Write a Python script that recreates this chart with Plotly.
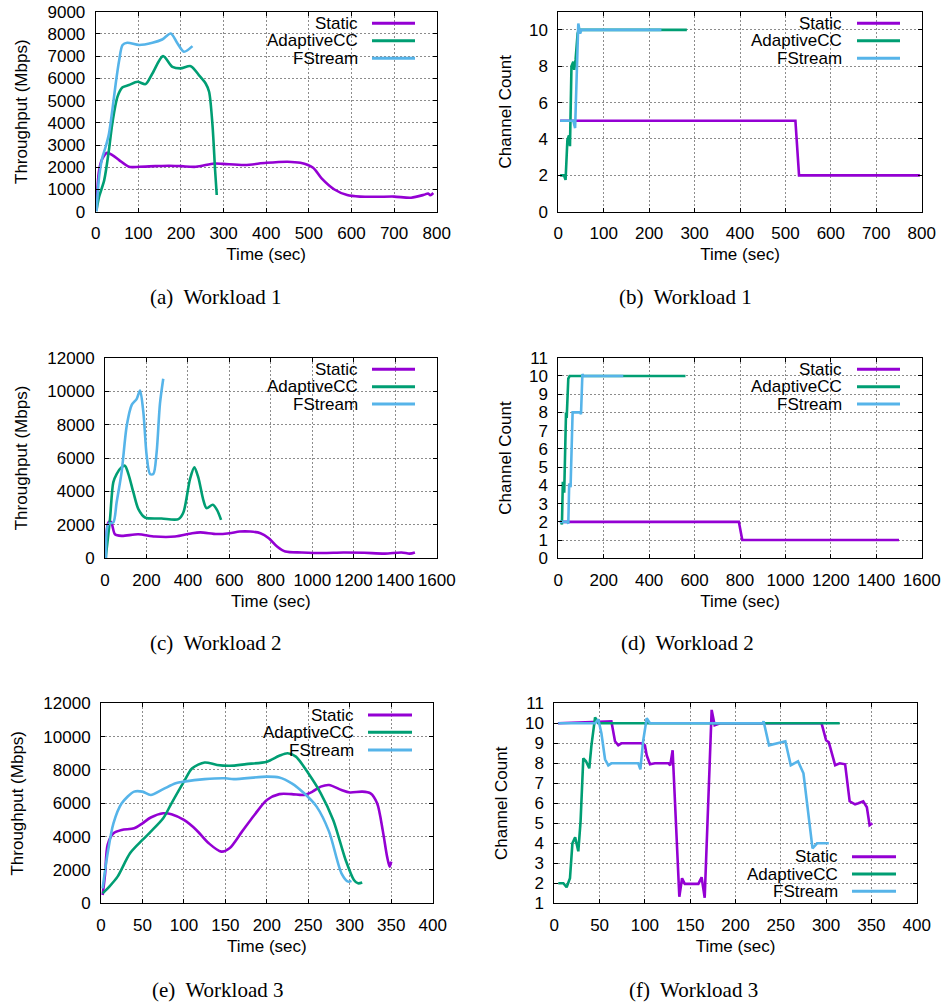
import plotly.graph_objects as go

W, H = 945, 1005
PURPLE = "#9400d3"
GREEN = "#009e73"
BLUE = "#56b4e9"
SANS = "Liberation Sans"
SERIF = "Liberation Serif"

SERIES_NAMES = ["Static", "AdaptiveCC", "FStream"]
SERIES_COLORS = [PURPLE, GREEN, BLUE]

# ---- Workload 1: throughput (Mbps) over time (sec) ----
w1_static_t = [2, 8, 16, 27, 39, 55, 78, 102, 140, 172, 200, 235, 278, 300, 350, 400, 450, 480, 510, 530,
               560, 590, 620, 660, 700, 740, 770, 780, 785, 792]
w1_static_v = [200, 1870, 2400, 2650, 2550, 2320, 2020, 2020, 2050, 2070, 2050, 2020, 2170, 2150, 2100, 2200,
               2250, 2200, 1980, 1500, 1000, 750, 680, 670, 680, 630, 760, 820, 740, 840]
w1_adapt_t = [2, 8, 20, 31, 39, 51, 63, 78, 98, 117, 133, 158, 180, 199, 223, 242, 258, 266, 274, 280, 284]
w1_adapt_v = [75, 670, 1420, 2770, 3970, 5170, 5600, 5700, 5850, 5740, 6220, 7000, 6520, 6450, 6550, 6150,
              5770, 5400, 3900, 1900, 750]
w1_fs_t = [2, 8, 16, 23, 31, 39, 47, 55, 63, 74, 102, 133, 156, 176, 192, 207, 227]
w1_fs_v = [0, 1570, 2470, 2900, 3500, 4570, 5770, 6800, 7500, 7600, 7500, 7600, 7750, 8020, 7570, 7200, 7450]

# ---- Workload 1: channel count ----
w1c_static_t = [4, 522, 530, 796]
w1c_static_v = [5, 5, 2, 2]
w1c_adapt_t = [4, 12.5, 16, 20, 23.5, 25.7, 29, 33, 35, 38, 42.5, 45, 283]
w1c_adapt_v = [2, 2, 1.75, 3.95, 4.2, 3.6, 8.0, 8.25, 7.8, 8.35, 9.8, 10, 10]
w1c_fs_t = [4, 33, 37, 40, 44, 48, 51, 227]
w1c_fs_v = [5, 5, 4.6, 7.2, 10.35, 9.8, 10, 10]

# ---- Workload 2: throughput ----
w2_static_t = [3, 16, 29, 48, 80, 160, 241, 338, 420, 460, 540, 600, 650, 700, 750, 790, 830, 870, 950,
               1050, 1150, 1250, 1350, 1430, 1470, 1495]
w2_static_v = [0, 2140, 2180, 1440, 1340, 1440, 1300, 1300, 1500, 1550, 1450, 1500, 1600, 1600, 1500, 1200,
               700, 400, 350, 320, 350, 330, 280, 350, 280, 350]
w2_adapt_t = [3, 24, 40, 56, 80, 96, 113, 137, 161, 193, 273, 354, 378, 410, 431, 450, 474, 490, 520, 540, 560]
w2_adapt_v = [0, 2340, 4540, 5040, 5440, 5540, 5040, 3940, 2940, 2440, 2380, 2340, 2740, 4740, 5440, 4840,
              3500, 3000, 3200, 2900, 2300]
w2_fs_t = [5, 16, 40, 56, 80, 105, 129, 153, 169, 185, 201, 217, 233, 249, 265, 281]
w2_fs_v = [0, 2040, 2140, 3340, 5140, 7940, 9180, 9540, 10040, 8740, 6140, 5040, 5040, 6340, 9240, 10740]

# ---- Workload 2: channel count ----
w2c_static_t = [7, 795, 810, 1500]
w2c_static_v = [2, 2, 1, 1]
w2c_adapt_t = [7, 13, 16, 20, 26, 31, 34, 37, 44, 50, 560]
w2c_adapt_v = [2, 2, 1.85, 4.2, 3.6, 7.9, 8.0, 7.7, 9.85, 10, 10]
w2c_fs_t = [7, 40, 44, 48, 54, 63, 96, 100, 106, 110, 286]
w2c_fs_v = [2, 2, 1.9, 4.1, 3.9, 8, 8, 7.9, 10.1, 10, 10]

# ---- Workload 3: throughput ----
w3_static_t = [2, 5, 8, 15, 25, 40, 50, 60, 75, 85, 100, 115, 130, 145, 155, 170, 185, 200, 215, 230, 245,
               255, 265, 275, 290, 300, 315, 325, 333, 340, 345, 348, 350]
w3_static_v = [500, 1800, 3500, 4200, 4400, 4500, 4800, 5150, 5400, 5350, 5000, 4400, 3600, 3100, 3300, 4300,
               5300, 6200, 6550, 6550, 6500, 6700, 7000, 7100, 6800, 6650, 6700, 6600, 6000, 4300, 2800, 2200,
               2500]
w3_adapt_t = [2, 10, 20, 35, 50, 60, 75, 85, 100, 110, 125, 140, 155, 175, 200, 215, 225, 235, 250, 265, 280,
              295, 305, 310, 315]
w3_adapt_v = [600, 1000, 1600, 3000, 3800, 4300, 5100, 6000, 7300, 8100, 8450, 8300, 8250, 8350, 8500, 8850,
              9000, 8800, 7800, 6600, 5000, 2600, 1400, 1200, 1250]
w3_fs_t = [2, 8, 15, 25, 40, 50, 60, 75, 90, 100, 125, 150, 160, 200, 215, 230, 245, 260, 275, 290, 298, 302]
w3_fs_v = [900, 3000, 4800, 6000, 6700, 6700, 6500, 6850, 7200, 7300, 7450, 7500, 7450, 7600, 7550, 7200, 6600,
           5800, 4300, 1800, 1300, 1350]

# ---- Workload 3: channel count ----
w3c_static_t = [4, 63, 67, 70.6, 74, 96, 100, 102, 105.6, 111, 126, 128, 130.6, 138, 141, 144, 159, 162.6, 166,
                173.7, 177, 183, 295, 300, 303, 310, 315, 321, 326, 332, 335.6, 341, 345, 348, 351]
w3c_static_v = [10, 10.1, 9.1, 8.9, 9.0, 9.0, 8.9, 8.4, 7.95, 8.0, 8.0, 7.9, 8.65, 1.33, 2.25, 1.97, 1.97, 2.3,
                1.28, 10.67, 9.9, 10, 10, 9.15, 9.05, 7.9, 8.0, 7.95, 6.1, 5.95, 6.0, 6.1, 5.8, 4.9, 5.0]
w3c_adapt_t = [4.4, 10, 13.6, 17.3, 20, 23, 26.5, 29, 32, 35, 38.6, 41, 45, 48.6, 315]
w3c_adapt_v = [2, 2, 1.8, 2.25, 4.0, 4.3, 3.6, 5.1, 8.25, 8.1, 7.75, 8.9, 10.3, 10, 10]
w3c_fs_t = [4.4, 45, 48.6, 52, 56, 59.6, 63, 92.7, 95, 98, 102, 105.6, 230, 231, 237, 249, 255, 261, 269, 275,
            279, 285, 290, 303]
w3c_fs_v = [10, 10, 10.2, 9.5, 8.2, 7.9, 8.0, 8.0, 7.7, 9.1, 10.25, 10, 10, 10.1, 8.9, 9.05, 9.1, 7.9, 8.1, 7.5,
            6.0, 3.75, 4.0, 4.0]

# panel layout: plot box in pixels (left, top, right, bottom)
panels = [
    dict(box=(95.7, 11.7, 436.7, 211.7), xr=[0, 800], xd=100, yr=[0, 9000], yvals=list(range(0, 9001, 1000)),
         ytitle="Throughput (Mbps)", ystand=15, smooth=True, caption="(a)\u00a0 Workload 1", cap=(215, 297),
         data=[(w1_static_t, w1_static_v), (w1_adapt_t, w1_adapt_v), (w1_fs_t, w1_fs_v)],
         key=dict(right=360, l0=372, l1=415, rows=[23.3, 40.7, 58.3], box=(265, 11.7, 420, 67))),
    dict(box=(558.3, 11.7, 921.7, 211.7), xr=[0, 800], xd=100, yr=[0, 11], yvals=[0, 2, 4, 6, 8, 10],
         ytitle="Channel Count", ystand=13, smooth=False, caption="(b)\u00a0 Workload 1", cap=(685, 297),
         data=[(w1c_static_t, w1c_static_v), (w1c_adapt_t, w1c_adapt_v), (w1c_fs_t, w1c_fs_v)],
         key=dict(right=844, l0=857, l1=900, rows=[23.3, 40.7, 58.3], box=(748, 11.7, 905, 67))),
    dict(box=(105, 357.7, 436.7, 558.3), xr=[0, 1600], xd=200, yr=[0, 12000], yvals=list(range(0, 12001, 2000)),
         ytitle="Throughput (Mbps)", ystand=15, smooth=True, caption="(c)\u00a0 Workload 2", cap=(215, 643),
         data=[(w2_static_t, w2_static_v), (w2_adapt_t, w2_adapt_v), (w2_fs_t, w2_fs_v)],
         key=dict(right=360, l0=372, l1=415, rows=[369.3, 386.7, 404], box=(265, 357.7, 420, 413))),
    dict(box=(558.3, 357.7, 921.7, 558.3), xr=[0, 1600], xd=200, yr=[0, 11], yvals=list(range(0, 12)),
         ytitle="Channel Count", ystand=13, smooth=False, caption="(d)\u00a0 Workload 2", cap=(687, 643),
         data=[(w2c_static_t, w2c_static_v), (w2c_adapt_t, w2c_adapt_v), (w2c_fs_t, w2c_fs_v)],
         key=dict(right=844, l0=857, l1=900, rows=[369.3, 386.7, 404], box=(748, 357.7, 905, 413))),
    dict(box=(101, 703.3, 432.7, 903.3), xr=[0, 400], xd=50, yr=[0, 12000], yvals=list(range(0, 12001, 2000)),
         ytitle="Throughput (Mbps)", ystand=15, smooth=True, caption="(e)\u00a0 Workload 3", cap=(217, 990),
         data=[(w3_static_t, w3_static_v), (w3_adapt_t, w3_adapt_v), (w3_fs_t, w3_fs_v)],
         key=dict(right=356, l0=368, l1=412, rows=[715, 732.3, 750], box=(260, 703.3, 417, 758))),
    dict(box=(554.3, 703.3, 916.7, 903.3), xr=[0, 400], xd=50, yr=[1, 11], yvals=list(range(1, 12)),
         ytitle="Channel Count", ystand=13, smooth=False, caption="(f)\u00a0 Workload 3", cap=(693, 990),
         data=[(w3c_static_t, w3c_static_v), (w3c_adapt_t, w3c_adapt_v), (w3c_fs_t, w3c_fs_v)],
         key=dict(right=840, l0=852, l1=896, rows=[856.7, 874, 891.3], box=(744, 845, 901, 903.3))),
]


def px(x):
    return x / W


def py(y):
    return 1 - y / H


fig = go.Figure()
annotations = []
shapes = []
tick_font = dict(family=SANS, size=17, color="black")

for i, p in enumerate(panels):
    n = "" if i == 0 else str(i + 1)
    xa, ya = "x" + n, "y" + n
    left, top, right, bottom = p["box"]
    common = dict(showline=True, linecolor="black", linewidth=1, mirror="allticks", ticks="inside",
                  ticklen=4, tickcolor="black", showgrid=True, gridcolor="#8c8c8c", griddash="2px,2px",
                  gridwidth=1, zeroline=False, tickfont=tick_font, automargin=False, tickformat="d")
    fig.layout["xaxis" + n] = dict(common, domain=[px(left), px(right)], range=p["xr"], dtick=p["xd"],
                                   tick0=0, anchor=ya, ticklabelstandoff=6,
                                   title=dict(text="Time (sec)", font=tick_font, standoff=6))
    fig.layout["yaxis" + n] = dict(common, domain=[py(bottom), py(top)], range=p["yr"], tickvals=p["yvals"],
                                   anchor=xa, ticklabelstandoff=6,
                                   title=dict(text=p["ytitle"], font=tick_font, standoff=p["ystand"]))

    for (t, v), name, color in zip(p["data"], SERIES_NAMES, SERIES_COLORS):
        line = dict(color=color, width=2.6)
        if p["smooth"]:
            line.update(shape="spline", smoothing=0.8)
        fig.add_trace(go.Scatter(x=t, y=v, mode="lines", name=name, line=line, xaxis=xa, yaxis=ya,
                                 showlegend=False))

    # opaque key box hides the grid behind the key
    k = p["key"]
    bx0, by0, bx1, by1 = k["box"]
    shapes.append(dict(type="rect", xref="paper", yref="paper", x0=px(bx0), x1=px(bx1), y0=py(by1),
                       y1=py(by0), fillcolor="white", line=dict(width=0), layer="below"))
    for name, color, ry in zip(SERIES_NAMES, SERIES_COLORS, k["rows"]):
        annotations.append(dict(x=px(k["right"]), y=py(ry), xref="paper", yref="paper", text=name,
                                showarrow=False, xanchor="right", yanchor="middle", font=tick_font))
        shapes.append(dict(type="line", xref="paper", yref="paper", x0=px(k["l0"]), x1=px(k["l1"]),
                           y0=py(ry), y1=py(ry), line=dict(color=color, width=3)))

    cx, cy = p["cap"]
    annotations.append(dict(x=px(cx), y=py(cy), xref="paper", yref="paper", text=p["caption"], showarrow=False,
                            xanchor="center", yanchor="middle", font=dict(family=SERIF, size=21, color="black")))

fig.update_layout(width=W, height=H, margin=dict(l=0, r=0, t=0, b=0), paper_bgcolor="white",
                  plot_bgcolor="rgba(0,0,0,0)", showlegend=False, annotations=annotations, shapes=shapes)

fig.write_html("out.html")
